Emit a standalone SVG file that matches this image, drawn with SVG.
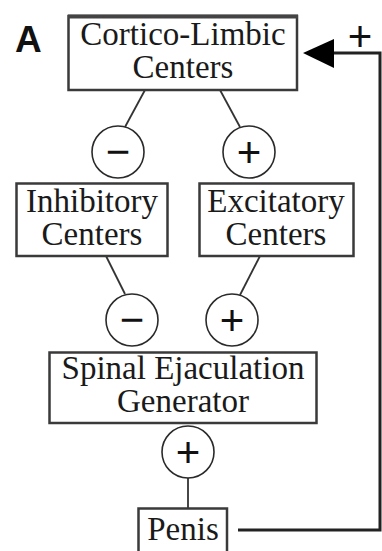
<svg xmlns="http://www.w3.org/2000/svg" width="382" height="551" viewBox="0 0 382 551">
<defs>
<style>
.box{fill:#fff;stroke:#3a3a3a;stroke-width:2.5}
.t{font-family:"Liberation Serif","Times New Roman",serif;font-size:33px;fill:#1a1a1a;text-anchor:middle}
.c{fill:#fff;stroke:#2a2a2a;stroke-width:1.6}
.s{font-family:"Liberation Sans",Arial,sans-serif;font-size:42px;fill:#111;text-anchor:middle}
.ln{stroke:#333;stroke-width:1.8;fill:none}
.fb{stroke:#222;stroke-width:3;fill:none}
</style>
</defs>
<rect width="382" height="551" fill="#fff"/>
<text x="15" y="52" font-family="Liberation Sans,Arial,sans-serif" font-weight="bold" font-size="37" fill="#111">A</text>
<g id="connectors">
<line class="ln" x1="145" y1="90" x2="125" y2="127"/>
<line class="ln" x1="220" y1="90" x2="240" y2="127"/>
<line class="ln" x1="106" y1="256" x2="125" y2="294"/>
<line class="ln" x1="260" y1="256" x2="240" y2="295"/>
<line class="ln" x1="188" y1="478" x2="188" y2="508"/>
<polyline class="fb" points="238,530 380,530 380,53 332,53"/>
<polygon points="303,53 334,39 334,68" fill="#000"/>
<text class="s" x="360" y="51" font-size="44">+</text>
</g>
<g id="cortico-limbic">
<rect class="box" x="68.5" y="16" width="228.5" height="74"/>
<line x1="68" y1="16.5" x2="298" y2="16.5" stroke="#444" stroke-width="4"/>
<text class="t" x="183" y="45">Cortico-Limbic</text>
<text class="t" x="183" y="78">Centers</text>
</g>
<g id="sign-cl-minus">
<circle class="c" cx="118" cy="152" r="26"/>
<text class="s" x="118" y="166">−</text>
</g>
<g id="sign-cl-plus">
<circle class="c" cx="249" cy="152" r="26"/>
<text class="s" x="249" y="167">+</text>
</g>
<g id="inhibitory">
<rect class="box" x="16.5" y="183.5" width="151" height="72.5"/>
<text class="t" x="92" y="212">Inhibitory</text>
<text class="t" x="92" y="245">Centers</text>
</g>
<g id="excitatory">
<rect class="box" x="199.5" y="183.5" width="154" height="72.5"/>
<text class="t" x="276" y="212">Excitatory</text>
<text class="t" x="276" y="245">Centers</text>
</g>
<g id="sign-in-minus">
<circle class="c" cx="132" cy="320" r="26"/>
<text class="s" x="132" y="334">−</text>
</g>
<g id="sign-ex-plus">
<circle class="c" cx="232" cy="320" r="26"/>
<text class="s" x="232" y="335">+</text>
</g>
<g id="spinal">
<rect class="box" x="49.5" y="352.5" width="267" height="70.5"/>
<text class="t" x="183" y="379">Spinal Ejaculation</text>
<text class="t" x="183" y="412">Generator</text>
</g>
<g id="sign-sp-plus">
<circle class="c" cx="188" cy="452" r="26"/>
<text class="s" x="188" y="467">+</text>
</g>
<g id="penis">
<rect class="box" x="138.5" y="508.5" width="88.5" height="50"/>
<text class="t" x="183" y="540">Penis</text>
</g>
</svg>
